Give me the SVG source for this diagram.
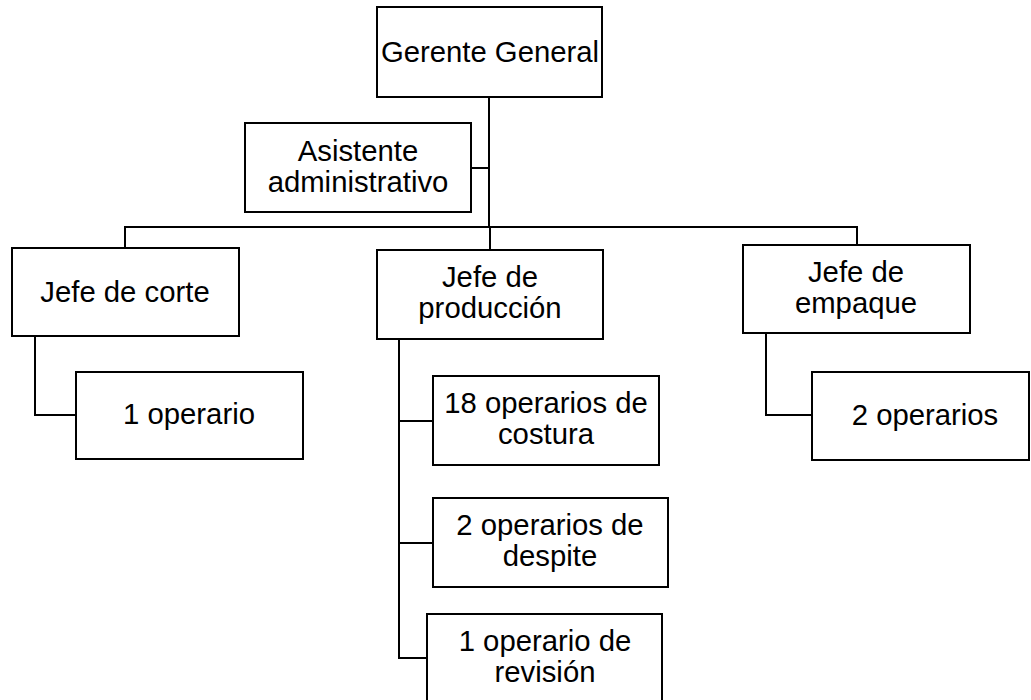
<svg xmlns="http://www.w3.org/2000/svg" width="1031" height="700" viewBox="0 0 1031 700">
<style>
.box{fill:#fff;stroke:#000;stroke-width:2}
.ln{fill:none;stroke:#000;stroke-width:2}
text{font-family:"Liberation Sans",Arial,sans-serif;font-size:29.3px;fill:#000;text-anchor:middle}
</style>
<rect width="1031" height="700" fill="#fff"/>
<g id="connectors">
<path class="ln" d="M489,97 V227"/>
<path class="ln" d="M471,168 H489"/>
<path class="ln" d="M125,248 V227 H857 V245"/>
<path class="ln" d="M490,227 V250"/>
<path class="ln" d="M35,336 V415 H76"/>
<path class="ln" d="M399,339 V658 H427"/>
<path class="ln" d="M399,421 H433"/>
<path class="ln" d="M399,543 H433"/>
<path class="ln" d="M766,333 V415 H812"/>
</g>
<g id="gerente"><rect class="box" x="377" y="7" width="225" height="90"/><text x="490" y="62">Gerente General</text></g>
<g id="asistente"><rect class="box" x="245" y="123" width="226" height="89"/><text x="358" y="161">Asistente</text><text x="358" y="192">administrativo</text></g>
<g id="jefe-corte"><rect class="box" x="12" y="248" width="227" height="88"/><text x="125" y="302">Jefe de corte</text></g>
<g id="op-corte"><rect class="box" x="76" y="372" width="227" height="87"/><text x="189" y="424">1 operario</text></g>
<g id="jefe-produccion"><rect class="box" x="377" y="250" width="226" height="89"/><text x="490" y="287">Jefe de</text><text x="490" y="318">producción</text></g>
<g id="op-costura"><rect class="box" x="433" y="376" width="226" height="89"/><text x="546" y="413">18 operarios de</text><text x="546" y="444">costura</text></g>
<g id="op-despite"><rect class="box" x="433" y="498" width="235" height="89"/><text x="550" y="535">2 operarios de</text><text x="550" y="566">despite</text></g>
<g id="op-revision"><rect class="box" x="427" y="614" width="235" height="100"/><text x="545" y="651">1 operario de</text><text x="545" y="682">revisión</text></g>
<g id="jefe-empaque"><rect class="box" x="743" y="245" width="227" height="88"/><text x="856" y="282">Jefe de</text><text x="856" y="313">empaque</text></g>
<g id="op-empaque"><rect class="box" x="812" y="372" width="217" height="88"/><text x="925" y="425">2 operarios</text></g>
</svg>
